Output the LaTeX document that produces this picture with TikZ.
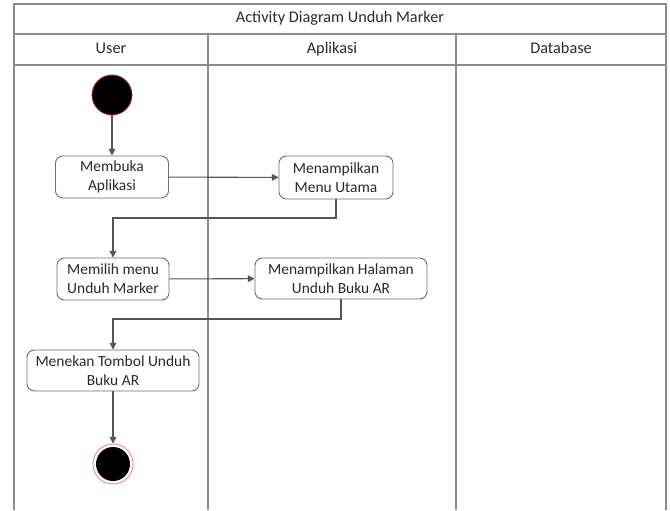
\documentclass[tikz,border=0pt]{standalone}
\usepackage{fontspec}
\setmainfont{Carlito}
\usetikzlibrary{arrows.meta}
\definecolor{lane}{HTML}{8C8C8C}
\definecolor{boxline}{HTML}{6E6E6E}
\definecolor{txt}{HTML}{2A2A2A}
\definecolor{conn}{HTML}{555555}
\definecolor{startring}{HTML}{B02020}
\definecolor{endring}{HTML}{F08080}
\tikzset{
  lanebar/.style={draw=lane, line width=1.3pt},
  act/.style={draw=boxline, line width=0.7pt, rounded corners=5.5pt, fill=white,
    align=center, inner sep=0pt, text=txt, font=\fontsize{11.6}{14.2}\selectfont},
  hdr/.style={text=txt, font=\fontsize{12.2}{14}\selectfont, text height=8.5pt, text depth=2.5pt},
  flow/.style={draw=conn, line width=0.8pt, -{Triangle[length=5pt,width=5pt]}},
}
\begin{document}
\begin{tikzpicture}[x=0.75pt,y=-0.75pt]
\useasboundingbox (0,0) rectangle (670,510);
% swimlane frame
\draw[lanebar] (14,510) -- (14,4) -- (666,4) -- (666,510);
\draw[lanebar] (14,34) -- (666,34);
\draw[lanebar] (14,65) -- (666,65);
\draw[lanebar] (208,34) -- (208,510);
\draw[lanebar] (456,34) -- (456,510);
\node[hdr] (title) at (340,19) {Activity Diagram Unduh Marker};
\node[hdr] (huser) at (111,50) {User};
\node[hdr] (happ) at (332,50) {Aplikasi};
\node[hdr] (hdb) at (561,50) {Database};
% nodes
\node[circle, fill=black, draw=startring, line width=0.6pt, minimum size=30pt, inner sep=0pt] (start) at (112,95) {};
\node[act, minimum width=113*0.75pt, minimum height=42*0.75pt] (a1) at (112,177) {Membuka\\Aplikasi};
\node[act, minimum width=114*0.75pt, minimum height=43*0.75pt] (a2) at (336,177.5) {Menampilkan\\Menu Utama};
\node[act, minimum width=112*0.75pt, minimum height=42*0.75pt] (a3) at (113,279) {Memilih menu\\Unduh Marker};
\node[act, minimum width=172*0.75pt, minimum height=41*0.75pt] (a4) at (341,278.5) {Menampilkan Halaman\\Unduh Buku AR};
\node[act, minimum width=172*0.75pt, minimum height=41*0.75pt] (a5) at (113,370.5) {Menekan Tombol Unduh\\Buku AR};
\node[circle, draw=endring, line width=0.6pt, minimum size=30pt, inner sep=0pt] (endring) at (113,464) {};
\node[circle, fill=black, minimum size=25.5pt, inner sep=0pt] (end) at (113,464) {};
% connectors
\coordinate (t1) at (113,218);
\coordinate (t2) at (113,319);
\draw[flow] (start) -- (a1);
\draw[flow] (a1) -- (a2);
\draw[flow] (a2.south) |- (t1) -- (t1 |- a3.north);
\draw[flow] (a3) -- (a4);
\draw[flow] (a4.south) |- (t2) -- (t2 |- a5.north);
\draw[flow] (a5) -- (endring);
\end{tikzpicture}
\end{document}
